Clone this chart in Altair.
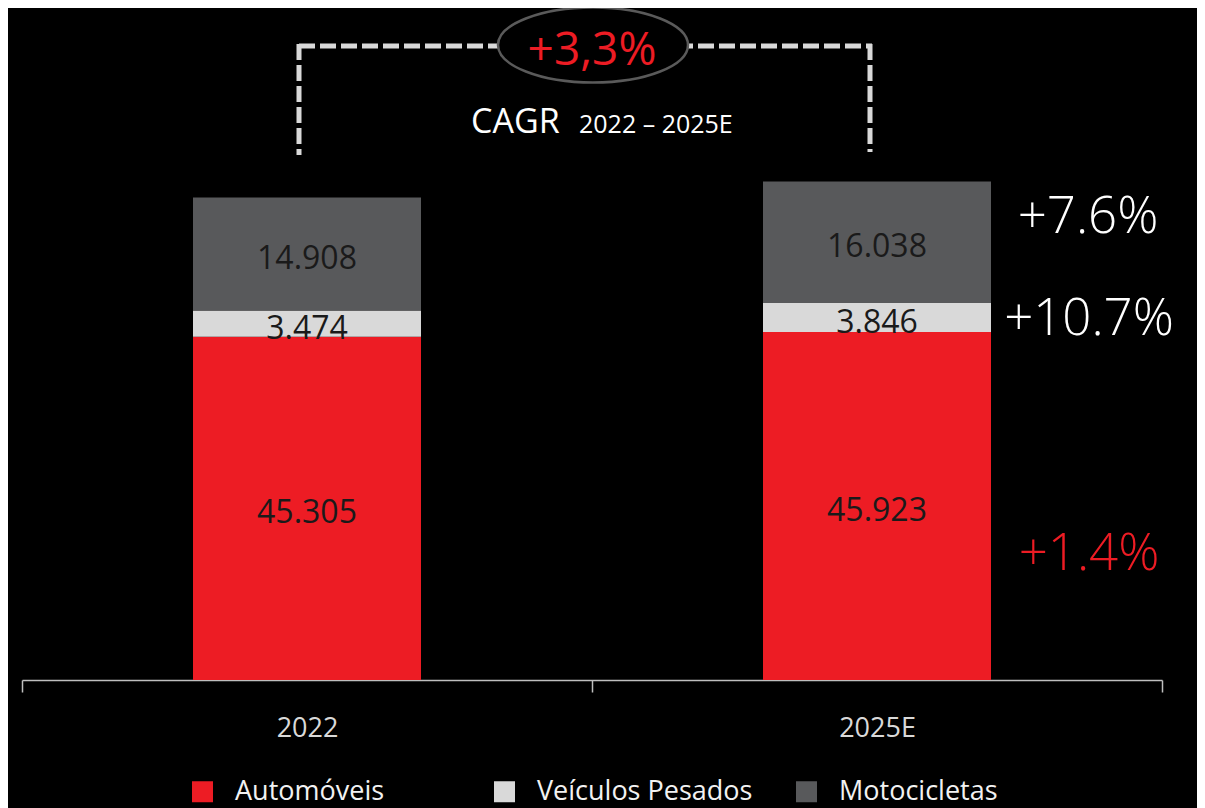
import altair as alt
import pandas as pd

# ---- data ----
years = ["2022", "2025E"]
categories = ["Automóveis", "Veículos Pesados", "Motocicletas"]
automoveis = [45305, 45923]
pesados = [3474, 3846]
motocicletas = [14908, 16038]
colors = ["#ed1c24", "#d9d9d9", "#58595b"]
growth = {"Motocicletas": "+7.6%", "Veículos Pesados": "+10.7%", "Automóveis": "+1.4%"}
cagr_value = "+3,3%"
cagr_title = "CAGR"
cagr_period = "2022 – 2025E"

rows = []
for i, y in enumerate(years):
    for j, (cat, vals) in enumerate(zip(categories, [automoveis, pesados, motocicletas])):
        rows.append({"year": y, "cat": cat, "value": vals[i], "order": j})
df = pd.DataFrame(rows)

FONT = "Open Sans"

base = alt.Chart(df).transform_stack(
    stack="value", groupby=["year"], as_=["y0", "y1"], sort=[alt.SortField("order")]
).transform_calculate(
    mid="(datum.y0 + datum.y1) / 2",
    lab="replace(format(datum.value, ','), ',', '.')",
)

xenc = alt.X(
    "year:N", sort=years, title=None,
    scale=alt.Scale(paddingInner=0, paddingOuter=0),
    axis=alt.Axis(
        tickBand="extent", domainColor="#bfbfbf", domainWidth=1.5,
        tickColor="#bfbfbf", tickWidth=1.5, tickSize=12,
        labelFont=FONT, labelFontSize=27, labelColor="#d9d9d9",
        labelPadding=23, labelAngle=0, grid=False,
    ),
)
yscale = alt.Scale(domain=[0, 88700], nice=False)

bars = base.mark_bar(width=alt.RelativeBandSize(0.4)).encode(
    x=xenc,
    y=alt.Y("y0:Q", scale=yscale, axis=None),
    y2="y1:Q",
    color=alt.Color(
        "cat:N",
        scale=alt.Scale(domain=categories, range=colors),
        legend=alt.Legend(
            title=None, orient="none", legendX=167, legendY=770,
            direction="horizontal", columns=3, gridAlign="all",
            symbolType="square", symbolSize=441, symbolStrokeWidth=0,
            labelFont=FONT, labelFontSize=27, labelColor="#f2f2f2",
            labelOffset=19, columnPadding=40, labelLimit=400, padding=0,
        ),
    ),
    order=alt.Order("order:Q"),
)

seg_text = base.mark_text(
    font=FONT, fontSize=32, color="#1a1a1a", baseline="alphabetic", dy=15
).encode(
    x=alt.X("year:N", sort=years),
    y=alt.Y("mid:Q", scale=yscale),
    text="lab:N",
)


def one(text):
    return alt.Chart(pd.DataFrame({"t": [text]}))


def label(text, x, y, size, color, align="center", weight=400):
    return one(text).mark_text(
        font=FONT, fontSize=size, color=color, align=align,
        baseline="alphabetic", fontWeight=weight,
    ).encode(x=alt.value(x), y=alt.value(y), text="t:N")


dash = dict(color="#d9d9d9", strokeWidth=5, strokeDash=[16, 5], strokeCap="butt")
rule_h = one("h").mark_rule(**dash).encode(x=alt.value(277), x2=alt.value(850), y=alt.value(38))
rule_l = one("l").mark_rule(**dash).encode(x=alt.value(277), y=alt.value(36), y2=alt.value(147))
rule_r = one("r").mark_rule(**dash).encode(x=alt.value(848), y=alt.value(36), y2=alt.value(144))

ellipse = one("e").mark_point(
    shape="M-1,0A1,0.395 0 1,1 1,0A1,0.395 0 1,1 -1,0Z",
    size=36100, filled=True, fill="#000000", stroke="#5a5a5a",
    strokeWidth=2.5, opacity=1, fillOpacity=1, strokeOpacity=1,
).encode(x=alt.value(571), y=alt.value(37))

cagr_txt = label(cagr_value, 570, 57, 46, "#ed1c24")
cagr_t1 = label(cagr_title, 449, 125, 34, "#ffffff", align="left")
cagr_t2 = label(cagr_period, 557, 125, 25, "#ffffff", align="left")

g1 = label(growth["Motocicletas"], 1066, 225, 51, "#ffffff", weight=300)
g2 = label(growth["Veículos Pesados"], 1067, 327, 51, "#ffffff", weight=300)
g3 = label(growth["Automóveis"], 1067, 562, 51, "#ed1c24", weight=300)

chart = alt.layer(
    bars, seg_text, rule_h, rule_l, rule_r, ellipse, cagr_txt, cagr_t1, cagr_t2, g1, g2, g3
).properties(
    width=1140, height=672,
    autosize=alt.AutoSizeParams(type="none"),
    padding={"left": 14, "top": 0, "right": 35, "bottom": 128},
    background="#000000",
).configure_view(strokeWidth=0)

chart.save("out.html", embed_options={"renderer": "svg", "actions": False})
